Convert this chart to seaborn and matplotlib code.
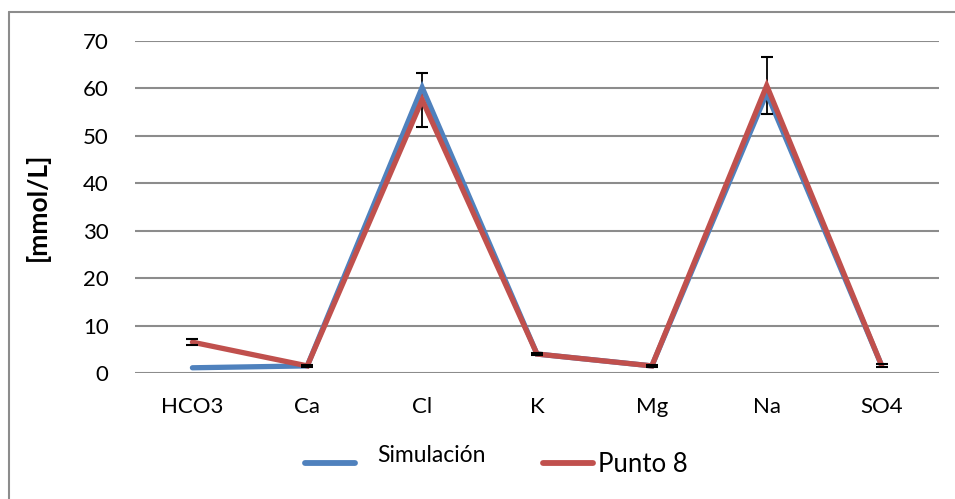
import matplotlib
matplotlib.use("Agg")
import matplotlib.pyplot as plt
import seaborn as sns
import pandas as pd
import numpy as np
from matplotlib.lines import Line2D

categories = ["HCO3", "Ca", "Cl", "K", "Mg", "Na", "SO4"]
simulacion = [1.1, 1.5, 60.2, 4.0, 1.5, 59.0, 1.6]
punto8 = [6.5, 1.5, 57.6, 4.0, 1.5, 60.6, 1.6]
punto8_err = [0.6, 0.15, 5.7, 0.3, 0.2, 6.0, 0.25]
yticks = [0, 10, 20, 30, 40, 50, 60, 70]
series_names = ["Simulación", "Punto 8"]

sns.set_theme(style="white")
plt.rcParams['font.family'] = ['Lato', 'DejaVu Sans']

fig = plt.figure(figsize=(9.55, 4.99), dpi=100)
ax = fig.add_axes([135/955, (499-373)/499, (939-135)/955, (373-41)/499])

df = pd.DataFrame({
    "cat": categories * 2,
    "val": simulacion + punto8,
    "serie": [series_names[0]] * len(categories) + [series_names[1]] * len(categories),
})
x = np.arange(len(categories))
df["x"] = np.tile(x, 2)

blue = "#4F81BD"
red = "#C0504D"
sns.lineplot(data=df, x="x", y="val", hue="serie", palette={series_names[0]: blue, series_names[1]: red},
             sort=False, linewidth=3.8, ax=ax, legend=False, solid_joinstyle="miter", solid_capstyle="round")
ax.errorbar(x, punto8, yerr=punto8_err, fmt="none", ecolor="black", elinewidth=1.3,
            capsize=4.5, capthick=1.5, zorder=1)
for ln in ax.lines:
    ln.set_zorder(3)

ax.set_xlim(-0.5, len(categories) - 0.5)
ax.set_ylim(0, 70)
ax.set_yticks(yticks)
ax.set_xticks(x)
ax.set_xticklabels(categories)
ax.yaxis.grid(True, color="#8C8C8C", linewidth=1.5)
ax.set_axisbelow(True)
for s in ax.spines.values():
    s.set_visible(False)
ax.tick_params(axis="both", length=0, labelsize=16, colors="black")
ax.tick_params(axis="y", pad=19)
ax.tick_params(axis="x", pad=17)
ax.set_xlabel("")
ax.set_ylabel("[mmol/L]", fontsize=19, fontweight="bold", labelpad=24, color="black")

# legend (drawn manually to match the reference's uneven text placement)
def fx(px):
    return px / 955
def fy(py):
    return (499 - py) / 499

fig.add_artist(Line2D([fx(305), fx(355)], [fy(463), fy(463)], color=blue, linewidth=4.2,
                      solid_capstyle="round", transform=fig.transFigure))
fig.add_artist(Line2D([fx(543), fx(593)], [fy(463), fy(463)], color=red, linewidth=4.2,
                      solid_capstyle="round", transform=fig.transFigure))
fig.text(fx(377), fy(455), series_names[0], fontsize=16.5, va="center", ha="left", color="black")
fig.text(fx(598), fy(465), series_names[1], fontsize=18.5, va="center", ha="left", color="black")

# outer frame (left and top visible)
fig.add_artist(Line2D([9/955, 9/955], [0, (499-12)/499], color="#8C8C8C", linewidth=1.5, transform=fig.transFigure))
fig.add_artist(Line2D([9/955, 1], [(499-12)/499, (499-12)/499], color="#8C8C8C", linewidth=1.5, transform=fig.transFigure))

fig.savefig("out.png", dpi=100)
